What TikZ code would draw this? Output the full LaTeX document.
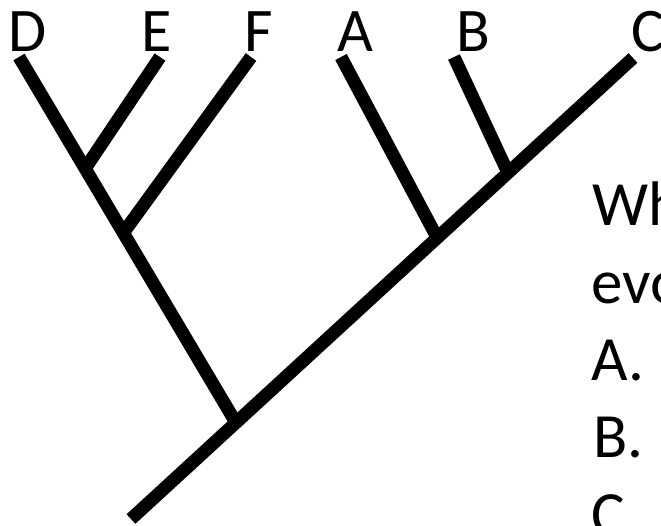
\documentclass[tikz,border=0pt]{standalone}
\usepackage{fontspec}
\setmainfont{Carlito}
\usetikzlibrary{calc}
\begin{document}
\begin{tikzpicture}[x=1pt, y=-1pt,
  branch/.style={line width=13pt, line cap=butt},
  taxon/.style={anchor=base, inner sep=0pt, font=\fontsize{62}{74}\selectfont},
  question/.style={anchor=base west, inner sep=0pt, font=\fontsize{63}{77}\selectfont},
]
  \useasboundingbox (0,0) rectangle (661,525);

  % root and tips
  \coordinate (root) at (131,519);
  \coordinate (tD) at (19,57);
  \coordinate (tE) at (160,57);
  \coordinate (tF) at (251,57);
  \coordinate (tA) at (341,57);
  \coordinate (tB) at (454,57);
  \coordinate (tC) at (633,58);

  % internal nodes
  \coordinate (nDEF) at ($(root)!0.209!(tC)$);
  \coordinate (nAB) at ($(root)!0.61!(tC)$);
  \coordinate (nB) at ($(root)!0.751!(tC)$);
  \coordinate (nEF) at ($(nDEF)!0.519!(tD)$);
  \coordinate (nE) at ($(nDEF)!0.695!(tD)$);

  % branches
  \draw[branch] (root) -- (tC);
  \draw[branch] (nDEF) -- (tD);
  \draw[branch] (nE) -- (tE);
  \draw[branch] (nEF) -- (tF);
  \draw[branch] (nAB) -- (tA);
  \draw[branch] (nB) -- (tB);

  % tip labels
  \node[taxon] (lD) at (28,51) {D};
  \node[taxon] (lE) at (157,51) {E};
  \node[taxon] (lF) at (259,51) {F};
  \node[taxon] (lA) at (355,51) {A};
  \node[taxon] (lB) at (473,51) {B};
  \node[taxon, anchor=base west] (lC) at (631,51) {C};

  % question (cut off at the right)
  \node[question] (q1) at (592,225) {Wh};
  \node[question] (q2) at (591,303) {evo};
  \node[question] (q3) at (591,380) {A.};
  \node[question] (q4) at (593,457) {B.};
  \node[question] (q5) at (591,535) {C};
\end{tikzpicture}
\end{document}
